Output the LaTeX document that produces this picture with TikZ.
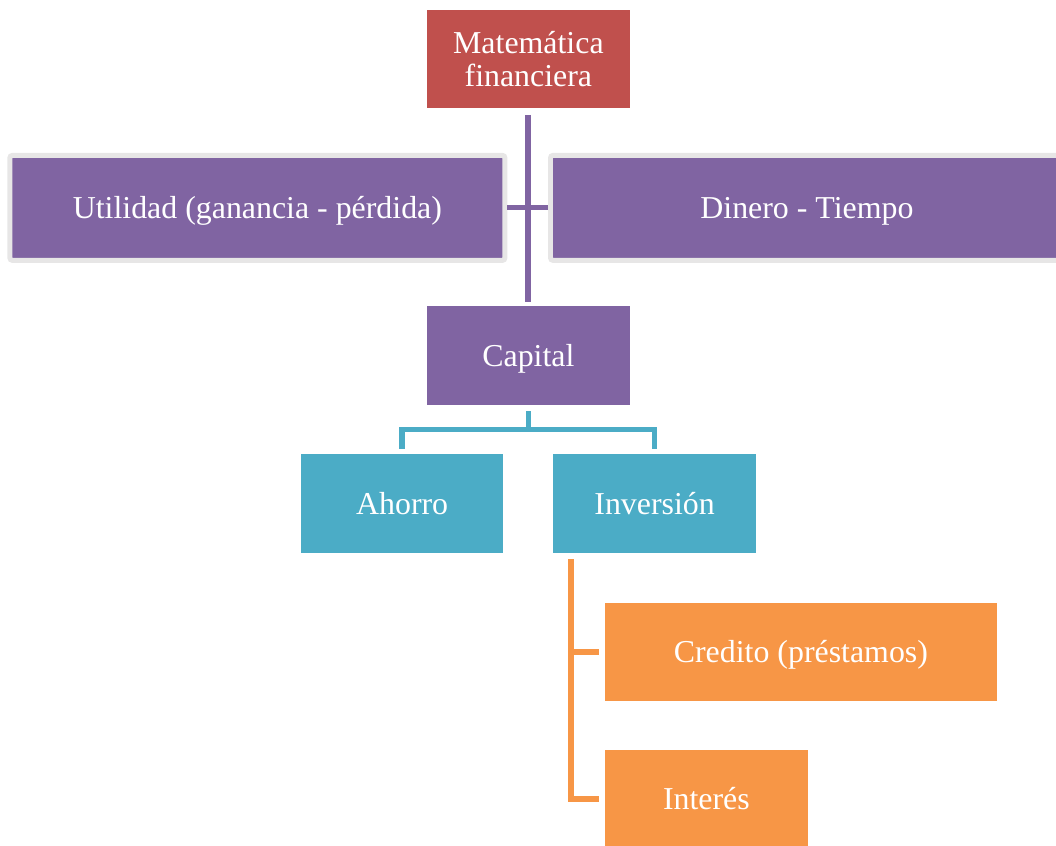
\documentclass[tikz,border=0pt]{standalone}
\usepackage{fontspec}
\setmainfont{Liberation Serif}
\usepackage{tikz}
\definecolor{rojo}{HTML}{C0504D}
\definecolor{morado}{HTML}{8064A2}
\definecolor{celeste}{HTML}{4BACC6}
\definecolor{naranja}{HTML}{F79646}
\definecolor{gris}{HTML}{E7E6E6}
\tikzset{
  caja/.style={rectangle,text=white,align=center,inner sep=0pt,
    font=\fontsize{24}{25}\selectfont},
  una/.style={caja,text height=21.4pt,text depth=5.2pt},
  marco/.style={una,draw=gris,line width=3.75pt,rounded corners=2pt},
  linea/.style={line width=4pt}
}

\begin{document}
\begin{tikzpicture}[scale=1]
\useasboundingbox (0,0) rectangle (27.94,-22.38);
\clip (0,0) rectangle (27.94,-22.38);

% nivel 1
\node[caja,fill=rojo,minimum width=5.37cm,minimum height=2.59cm] (mat) at (13.98,-1.56) {Matemática\\financiera};

% nivel 2
\node[marco,fill=morado,minimum width=13.10cm,minimum height=2.78cm] (util) at (6.81,-5.50) {Utilidad (ganancia - pérdida)};
\node[marco,fill=morado,minimum width=13.57cm,minimum height=2.78cm] (din) at (21.35,-5.50) {Dinero - Tiempo};

\node[una,fill=morado,minimum width=5.37cm,minimum height=2.62cm] (cap) at (13.98,-9.41) {Capital};

% nivel 3
\node[una,fill=celeste,minimum width=5.34cm,minimum height=2.62cm] (aho) at (10.64,-13.32) {Ahorro};
\node[una,fill=celeste,minimum width=5.37cm,minimum height=2.62cm] (inv) at (17.32,-13.32) {Inversión};

% nivel 4
\node[una,fill=naranja,minimum width=10.37cm,minimum height=2.59cm] (cre) at (21.19,-17.25) {Credito (préstamos)};
\node[una,fill=naranja,minimum width=5.37cm,minimum height=2.59cm] (int) at (18.69,-21.14) {Interés};

% conectores
\draw[morado,line width=4.5pt] ([yshift=-0.18cm]mat.south) -- ([yshift=0.1cm]cap.north);
\draw[morado,line width=3.9pt] (util.east) -- (din.west);

\coordinate (tj) at (13.98,-11.36);
\draw[celeste,linea] ([yshift=-0.15cm]cap.south) -- (tj);
\draw[celeste,linea] ([yshift=0.13cm]aho.north) |- (tj) -| ([yshift=0.13cm]inv.north);

\coordinate (oj) at ([xshift=0.48cm,yshift=-0.16cm]inv.south west);
\draw[naranja,linea] (oj) |- ([xshift=-0.16cm]cre.west);
\draw[naranja,linea] (oj) |- ([xshift=-0.16cm]int.west);
\end{tikzpicture}
\end{document}
